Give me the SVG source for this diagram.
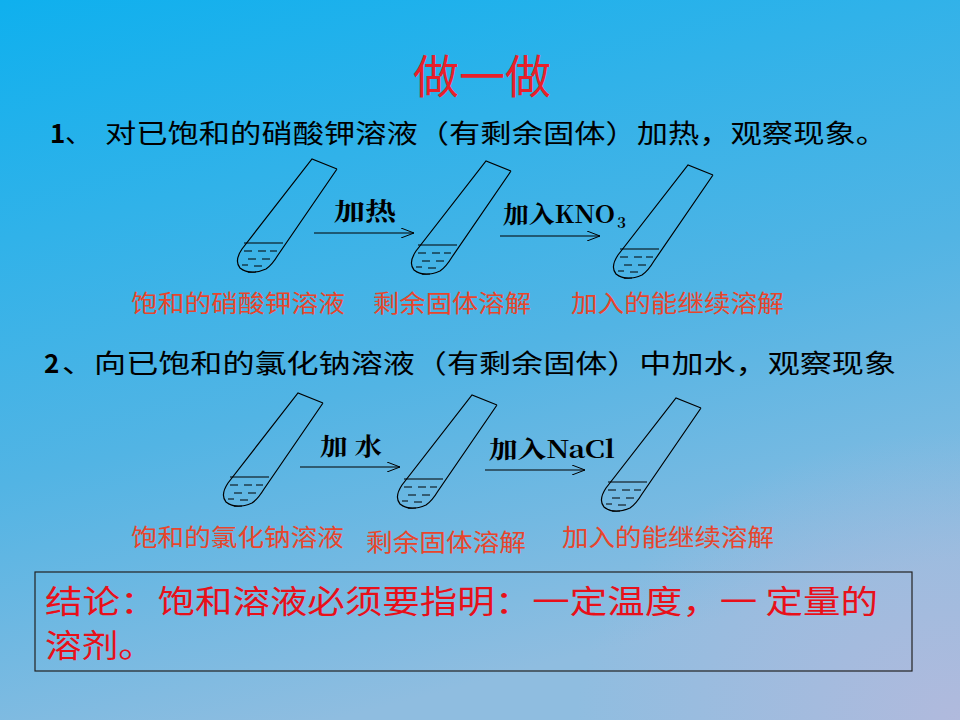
<svg xmlns="http://www.w3.org/2000/svg" width="960" height="720" viewBox="0 0 960 720">
<defs>
<linearGradient id="bg" x1="0" y1="0" x2="0.35" y2="1">
<stop offset="0" stop-color="#0fb0ee"/><stop offset="0.6" stop-color="#52b4e4"/><stop offset="1" stop-color="#8fbde0"/>
</linearGradient>
<radialGradient id="corner" cx="1" cy="1" r="0.4"><stop offset="0" stop-color="#b9b9dc" stop-opacity="0.8"/><stop offset="1" stop-color="#b9b9dc" stop-opacity="0"/></radialGradient>
<marker id="ah" markerWidth="14" markerHeight="10" refX="13" refY="5" orient="auto" markerUnits="userSpaceOnUse"><path d="M0,0 L13,5 L0,10" fill="none" stroke="#000" stroke-width="1"/></marker>
<g id="tube" fill="none" stroke="#000" stroke-width="1.2">
<path d="M25,10 L0,0 L-70,90 Q-78,102 -72,109 Q-62,117 -46,110 Q-40,106 -34,96 L25,10"/>
<line x1="-68" y1="84" x2="-29" y2="84"/>
<path d="M-68,92 h8 M-54,92 h8 M-42,92 h7 M-64,100 h8 M-50,100 h8 M-70,106 h6 M-58,107 h8 M-64,113 h8" stroke-width="1"/>
</g>
</defs>
<style>
.t{font-family:"Noto Sans CJK SC","Liberation Sans",sans-serif}
.red{fill:#e8452c;font-size:24px}
.blk{fill:#000;font-size:26px}
.lab{font-family:"Noto Serif CJK SC","Noto Sans CJK SC",serif;font-weight:bold;font-size:24px;fill:#000}
.sub{font-size:15px}
</style>
<rect width="960" height="720" fill="url(#bg)"/>
<rect width="960" height="720" fill="url(#corner)"/>
<text class="t" x="482" y="93" text-anchor="middle" font-size="46" fill="#e8202a">做一做</text>
<text class="t blk" x="50" y="143"><tspan font-weight="bold">1</tspan>、 <tspan x="105" textLength="782" lengthAdjust="spacingAndGlyphs">对已饱和的硝酸钾溶液（有剩余固体）加热，观察现象。</tspan></text>
<text class="t blk" x="44" y="373"><tspan font-weight="bold">2</tspan><tspan x="62" textLength="834" lengthAdjust="spacingAndGlyphs">、向已饱和的氯化钠溶液（有剩余固体）中加水，观察现象</tspan></text>
<g id="row1">
<use href="#tube" x="312" y="159"/><use href="#tube" x="486" y="161"/><use href="#tube" x="688" y="165"/>
<text class="lab" x="334" y="220" textLength="62" lengthAdjust="spacingAndGlyphs">加热</text>
<text class="lab" x="503" y="223" textLength="112" lengthAdjust="spacingAndGlyphs">加入KNO</text>
<text class="lab sub" x="617" y="228">3</text>
</g>
<g id="row2">
<use href="#tube" x="298" y="393"/><use href="#tube" x="472" y="395"/><use href="#tube" x="676" y="398"/>
<text class="lab" x="320" y="455" textLength="62" lengthAdjust="spacingAndGlyphs">加 水</text>
<text class="lab" x="489" y="458" textLength="126" lengthAdjust="spacingAndGlyphs">加入NaCl</text>
</g>
<g id="connectors" stroke="#000" stroke-width="1.2">
<line x1="314" y1="233" x2="414" y2="233" marker-end="url(#ah)"/>
<line x1="500" y1="236" x2="600" y2="236" marker-end="url(#ah)"/>
<line x1="300" y1="467" x2="400" y2="467" marker-end="url(#ah)"/>
<line x1="485" y1="470" x2="585" y2="470" marker-end="url(#ah)"/>
</g>
<g id="labels">
<text class="t red" x="131" y="312" textLength="214" lengthAdjust="spacingAndGlyphs">饱和的硝酸钾溶液</text>
<text class="t red" x="373" y="312" textLength="158" lengthAdjust="spacingAndGlyphs">剩余固体溶解</text>
<text class="t red" x="571" y="312" textLength="213" lengthAdjust="spacingAndGlyphs">加入的能继续溶解</text>
<text class="t red" x="131" y="546" textLength="213" lengthAdjust="spacingAndGlyphs">饱和的氯化钠溶液</text>
<text class="t red" x="366" y="551" textLength="160" lengthAdjust="spacingAndGlyphs">剩余固体溶解</text>
<text class="t red" x="562" y="546" textLength="212" lengthAdjust="spacingAndGlyphs">加入的能继续溶解</text>
</g>
<g id="conclusion">
<rect x="35" y="572" width="877" height="99" fill="none" stroke="#222" stroke-width="1.2"/>
<text class="t" x="45" y="613" font-size="32" fill="#e8101a" textLength="833" lengthAdjust="spacingAndGlyphs">结论：饱和溶液必须要指明：一定温度，一 定量的</text>
<text class="t" x="45" y="657" font-size="32" fill="#e8101a" textLength="110" lengthAdjust="spacingAndGlyphs">溶剂。</text>
</g>
</svg>
